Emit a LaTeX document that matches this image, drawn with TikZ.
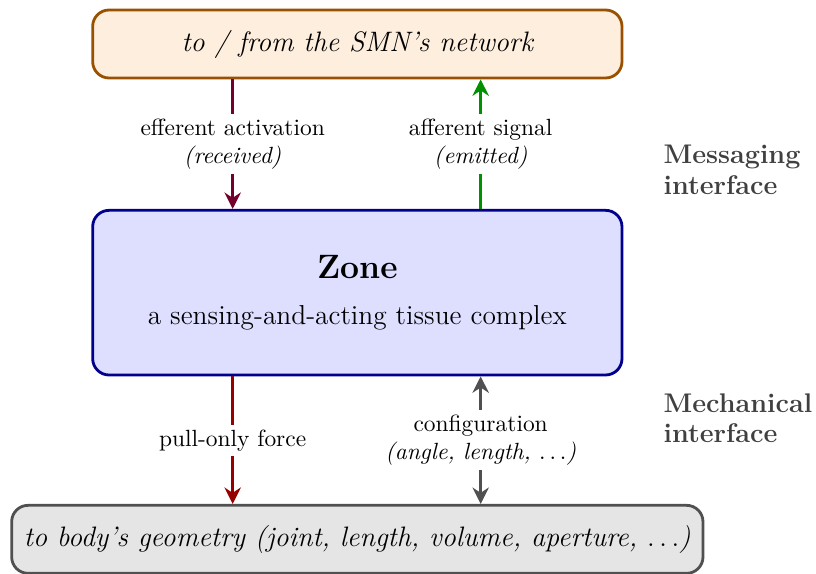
\documentclass[tikz,border=0pt]{standalone}
\usepackage{tikz}
\usetikzlibrary{arrows.meta}

\definecolor{netbrown}{RGB}{153,80,0}
\definecolor{netfill}{RGB}{253,238,222}
\definecolor{zoneblue}{RGB}{0,0,140}
\definecolor{zonefill}{RGB}{222,222,255}
\definecolor{effwine}{RGB}{115,0,45}
\definecolor{affgreen}{RGB}{0,145,0}
\definecolor{pullred}{RGB}{150,0,0}
\definecolor{cfggray}{RGB}{80,80,80}

\begin{document}
\begin{tikzpicture}[every node/.style={font=\normalsize},
	box/.style={draw, line width=1.2pt, rounded corners=7pt, align=center},
	link/.style={line width=1.3pt, -{Stealth[length=7pt,width=7pt]}},
	tag/.style={fill=white, text=black, inner sep=2pt, align=center},
	side/.style={text=black!75, font=\fontsize{11.5}{13}\selectfont\bfseries, align=left, anchor=west},]
\useasboundingbox (-5.36,4.39) rectangle (6.88,-4.21);
\node[box, draw=zoneblue, fill=zonefill, minimum width=7.94cm, minimum height=2.47cm] (zone) at (0,0)
	{{\Large\bfseries Zone}\\[8pt] {\fontsize{11.7}{14}\selectfont a sensing-and-acting tissue complex}};
\node[box, draw=netbrown, fill=netfill, minimum width=7.94cm, minimum height=1.02cm] (net) at (0,3.73)
	{\large\itshape to / from the SMN's network};
\node[box, draw=cfggray, fill=black!10, minimum width=10.37cm, minimum height=1.02cm] (body) at (0,-3.70)
	{\large\itshape to body's geometry (joint, length, volume, aperture, $\ldots$)};

% messaging
\draw[link, effwine] ([xshift=-1.87cm]net.south) -- node[tag] {efferent activation\\\textit{(received)}} ([xshift=-1.87cm]zone.north);
\draw[link, affgreen] ([xshift=1.85cm]zone.north) -- node[tag] {afferent signal\\\textit{(emitted)}} ([xshift=1.85cm]net.south);
% mechanics
\draw[link, pullred] ([xshift=-1.87cm]zone.south) -- node[tag] {pull-only force} ([xshift=-1.87cm]body.north);
\draw[link, cfggray, {Stealth[length=7pt,width=7pt]}-{Stealth[length=7pt,width=7pt]}] ([xshift=1.85cm]zone.south) -- node[tag] {configuration\\\textit{(angle, length, $\ldots$)}} ([xshift=1.85cm]body.north);

\node[side] (msg) at (4.47,1.84) {Messaging\\interface};
\node[side] (mech) at (4.47,-1.88) {Mechanical\\interface};
\end{tikzpicture}
\end{document}
